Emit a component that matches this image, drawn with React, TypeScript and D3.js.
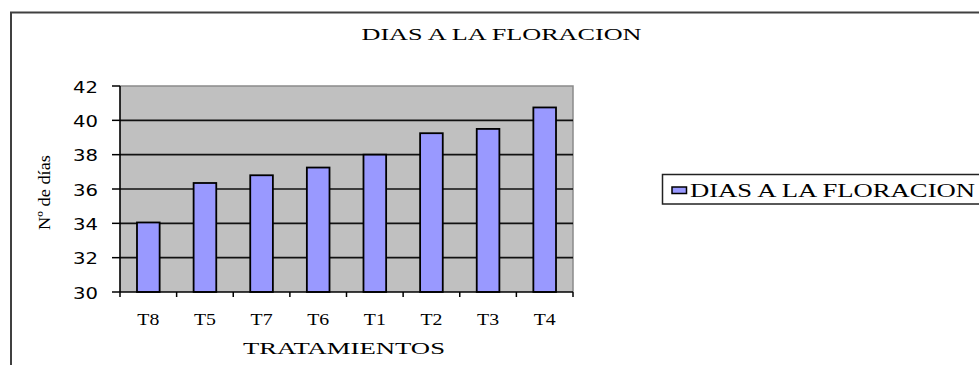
import React from "react";
import * as d3 from "d3";

const categories = ["T8", "T5", "T7", "T6", "T1", "T2", "T3", "T4"];
const values = [34.05, 36.35, 36.8, 37.25, 38.0, 39.25, 39.5, 40.75];
const yTicks = [30, 32, 34, 36, 38, 40, 42];
const chartTitle = "DIAS A LA FLORACION";
const xTitle = "TRATAMIENTOS";
const yTitle = "Nº de días";
const seriesName = "DIAS A LA FLORACION";

const W = 979;
const H = 365;
const plot = { left: 120, right: 573, top: 86, bottom: 292 };
const serif = "'Liberation Serif', 'Times New Roman', serif";
const sans = "'DejaVu Sans', Verdana, sans-serif";

export default function App() {
  const x = d3
    .scaleBand<string>()
    .domain(categories)
    .range([plot.left, plot.right])
    .paddingInner(0.6)
    .paddingOuter(0.3);
  const band = (plot.right - plot.left) / categories.length;
  const y = d3.scaleLinear().domain([30, 42]).range([plot.bottom, plot.top]);
  const boundaries = d3.range(categories.length + 1).map((i) => plot.left + i * band);

  return (
    <svg
      width={W}
      height={H}
      style={{ position: "absolute", left: 0, top: 0, background: "#fff" }}
    >
      <rect x={11} y={12.5} width={1000} height={400} fill="#fff" stroke="#404040" strokeWidth={2} />
      <text
        x={501.5}
        y={40}
        fontFamily={serif}
        fontSize={17.5}
        textAnchor="middle"
        textLength={280}
        lengthAdjust="spacingAndGlyphs"
      >
        {chartTitle}
      </text>

      <rect
        x={plot.left}
        y={plot.top}
        width={plot.right - plot.left}
        height={plot.bottom - plot.top}
        fill="#C0C0C0"
      />
      <path
        d={`M${plot.left},${plot.top}H${plot.right}V${plot.bottom}`}
        fill="none"
        stroke="#8a8a8a"
        strokeWidth={1.5}
      />
      {yTicks.slice(1, -1).map((t) => (
        <line key={t} x1={plot.left} x2={plot.right} y1={y(t)} y2={y(t)} stroke="#111" strokeWidth={1.6} />
      ))}

      {categories.map((c, i) => (
        <rect
          key={c}
          x={x(c)!}
          y={y(values[i])}
          width={x.bandwidth()}
          height={y(30) - y(values[i])}
          fill="#9999FF"
          stroke="#000"
          strokeWidth={1.8}
        />
      ))}

      <line x1={plot.left} x2={plot.left} y1={plot.top} y2={plot.bottom} stroke="#000" strokeWidth={1.6} />
      <line x1={plot.left} x2={plot.right} y1={plot.bottom} y2={plot.bottom} stroke="#000" strokeWidth={1.6} />

      {yTicks.map((t) => (
        <g key={t}>
          <line x1={plot.left - 8} x2={plot.left} y1={y(t)} y2={y(t)} stroke="#000" strokeWidth={1.5} />
          <text
            x={98}
            y={y(t) + 6.5}
            fontFamily={sans}
            fontSize={15.5}
            textAnchor="end"
            textLength={25}
            lengthAdjust="spacingAndGlyphs"
          >
            {t}
          </text>
        </g>
      ))}

      {boundaries.map((bx, i) => (
        <line key={i} x1={bx} x2={bx} y1={plot.bottom} y2={plot.bottom + 5} stroke="#000" strokeWidth={1.5} />
      ))}
      {categories.map((c) => (
        <text
          key={c}
          x={x(c)! + x.bandwidth() / 2}
          y={325}
          fontFamily={serif}
          fontSize={16.5}
          textAnchor="middle"
          textLength={22}
          lengthAdjust="spacingAndGlyphs"
        >
          {c}
        </text>
      ))}

      <text
        x={344}
        y={353.5}
        fontFamily={serif}
        fontSize={17.5}
        textAnchor="middle"
        textLength={202}
        lengthAdjust="spacingAndGlyphs"
      >
        {xTitle}
      </text>

      <text
        transform="translate(49.5,192.5) rotate(-90)"
        fontFamily={serif}
        fontSize={17}
        textAnchor="middle"
        textLength={75}
        lengthAdjust="spacingAndGlyphs"
      >
        {yTitle}
      </text>

      <rect x={662.5} y={174.5} width={330} height={29.5} fill="#fff" stroke="#222" strokeWidth={1.5} />
      <rect x={672} y={187} width={14.5} height={6.5} fill="#9999FF" stroke="#000" strokeWidth={1.5} />
      <text
        x={690}
        y={196.7}
        fontFamily={serif}
        fontSize={18}
        textLength={285}
        lengthAdjust="spacingAndGlyphs"
      >
        {seriesName}
      </text>
    </svg>
  );
}
